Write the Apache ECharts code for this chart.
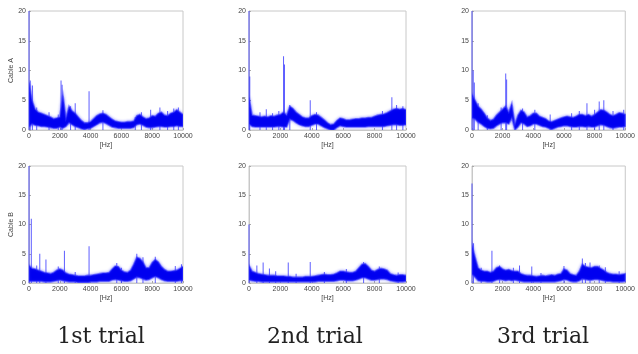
<!DOCTYPE html>
<html>
<head>
<meta charset="utf-8">
<script src="https://cdn.jsdelivr.net/npm/echarts@6/dist/echarts.min.js"></script>
<style>
html,body{margin:0;padding:0;background:#fff;}
#chart{width:638px;height:354px;}
</style>
</head>
<body>
<div id="chart"></div>
<script>
// Frequency grid [Hz] for the noise-band envelopes
const freq = [
  0,200,400,600,800,1000,1200,1400,1600,1800,
  2000,2200,2400,2600,2800,3000,3200,3400,3600,3800,
  4000,4200,4400,4600,4800,5000,5200,5400,5600,5800,
  6000,6200,6400,6600,6800,7000,7200,7400,7600,7800,
  8000,8200,8400,8600,8800,9000,9200,9400,9600,9800,
  10000
];
const xTicks = [0, 2000, 4000, 6000, 8000, 10000];
const yTicks = [0, 5, 10, 15, 20];
const rowNames = ['Cable A', 'Cable B'];
const trialNames = ['1st trial', '2nd trial', '3rd trial'];

// ---- Cable A, 1st trial ----
const a1Upper = [8,5,3.5,3.0,2.8,2.6,2.4,2.2,1.9,2.0, 2.2,6,2.0,4.0,3.2,2.8,2.2,1.6,1.2,1.2, 1.4,1.9,2.4,2.7,2.8,2.6,2.2,1.8,1.5,1.4, 1.3,1.3,1.4,1.4,1.5,2.4,2.6,2.2,1.9,2.0, 2.4,2.3,2.8,3.0,2.5,2.4,2.8,3.0,3.4,3.0, 2.6];
const a1Lower = [0.5,1.0,0.8,0.7,0.6,0.6,0.5,0.4,0.3,0.3, 0.5,0.3,0.6,1.2,0.9,0.6,0.4,0.2,0.1,0.2, 0.3,0.6,0.9,1.2,1.3,1.1,0.8,0.5,0.4,0.3, 0.3,0.3,0.3,0.3,0.4,0.9,1.0,0.8,0.5,0.4, 0.4,0.5,0.6,0.6,0.5,0.5,0.6,0.6,0.7,0.6, 0.6];
const a1Spikes = [[0,20],[80,8.3],[220,7.5],[500,3.8],[1300,3.0],[1900,2.6],[2080,8.3],[2150,7.6],[2700,4.0],[3000,4.5],[3900,6.5],[4800,3.3],[6900,2.2],[7300,3.0],[7900,3.4],[8500,3.8],[9000,3.2],[9400,3.6],[9700,3.8]];

// ---- Cable A, 2nd trial ----
const a2Upper = [5.5,2.5,2.4,2.3,2.2,2.3,2.2,2.4,2.3,2.5, 2.6,3.0,2.5,4.0,3.6,3.0,2.6,2.2,2.0,2.0, 2.4,2.6,2.5,2.1,1.7,1.2,0.9,1.0,1.6,2.0, 1.9,1.7,1.7,1.8,1.9,1.9,2.0,2.0,2.1,2.1, 2.3,2.5,2.6,2.7,2.9,3.2,3.5,3.6,3.5,3.6, 3.4];
const a2Lower = [1.0,0.6,0.5,0.5,0.5,0.5,0.5,0.5,0.5,0.6, 0.6,0.5,0.5,1.8,1.6,1.2,0.9,0.7,0.6,0.6, 0.8,1.0,1.0,0.7,0.4,0.2,0.0,0.0,0.4,0.7, 0.6,0.5,0.5,0.5,0.5,0.5,0.5,0.5,0.6,0.6, 0.6,0.6,0.6,0.6,0.7,0.8,0.9,0.9,0.8,0.8, 0.9];
const a2Spikes = [[0,20],[50,9],[700,3.0],[1100,3.5],[1500,2.8],[1900,3.2],[2200,12.4],[2260,11],[2600,4.2],[3900,5.0],[4300,3.0],[8500,3.2],[9100,5.5],[9400,4.2],[9800,4.0]];

// ---- Cable A, 3rd trial ----
const a3Upper = [6,5.0,4.0,3.5,2.8,2.0,1.6,1.8,2.5,3.0, 3.5,4,3.0,4.5,1.0,2.5,3.3,3.0,2.2,2.4, 2.8,2.8,2.3,2.1,1.9,1.5,1.4,1.6,1.8,2.0, 2.2,2.3,2.2,2.1,2.3,2.6,2.6,2.4,2.6,2.3, 2.6,3.0,3.4,3.3,3.0,2.6,2.4,2.6,2.9,2.8, 2.6];
const a3Lower = [2,1.8,1.3,1.0,0.6,0.3,0.2,0.3,0.7,1.0, 1.2,1.2,1.0,2.0,0.0,0.5,1.2,1.0,0.6,0.7, 1.0,1.0,0.8,0.6,0.5,0.3,0.1,0.3,0.5,0.6, 0.7,0.7,0.6,0.5,0.5,0.6,0.6,0.5,0.6,0.5, 0.5,0.7,0.9,0.8,0.6,0.4,0.3,0.4,0.5,0.5, 0.6];
const a3Spikes = [[0,20],[80,10],[150,8],[400,4.5],[1000,2.5],[1900,3.8],[2200,9.5],[2260,8.5],[3300,3.6],[4100,3.4],[5100,2.6],[6500,2.8],[7000,3.2],[7500,4.5],[8000,3.4],[8300,4.8],[8600,5.0],[9200,3.2],[9900,3.4]];

// ---- Cable B, 1st trial ----
const b1Upper = [3,2.5,2.4,2.2,2.0,1.8,1.7,1.6,1.8,2.2, 2.4,2.2,1.7,1.5,1.4,1.3,1.2,1.2,1.2,1.3, 1.3,1.4,1.5,1.6,1.7,1.7,1.8,2.4,2.9,2.8, 2.2,1.9,1.8,2.2,3.2,4.4,4.2,3.6,2.6,2.6, 3.5,4.0,3.6,2.8,2.3,2.0,2.0,2.1,2.2,2.5, 2.8];
const b1Lower = [0.3,0.3,0.3,0.3,0.3,0.2,0.2,0.2,0.3,0.4, 0.5,0.4,0.3,0.2,0.2,0.2,0.1,0.1,0.1,0.1, 0.2,0.2,0.2,0.3,0.3,0.3,0.3,0.5,0.6,0.5, 0.4,0.3,0.3,0.4,0.7,1.0,0.9,0.7,0.5,0.6, 0.9,1.1,0.9,0.6,0.4,0.3,0.3,0.3,0.3,0.4, 0.4];
const b1Spikes = [[0,20],[150,11],[500,3.0],[700,5.0],[1100,4.0],[1900,2.8],[2300,5.5],[3000,1.9],[3900,6.3],[5700,3.4],[6000,2.6],[7000,5.0],[7400,4.4],[8200,4.5],[9500,2.9],[9900,3.2]];

// ---- Cable B, 2nd trial ----
const b2Upper = [3.0,2.0,1.8,1.6,1.5,1.4,1.3,1.3,1.3,1.2, 1.2,1.2,1.1,1.1,1.0,1.0,1.0,1.0,1.1,1.1, 1.1,1.2,1.3,1.4,1.5,1.4,1.4,1.5,1.7,2.0, 2.0,1.9,1.8,1.8,2.0,2.6,3.2,3.3,2.8,2.2, 2.0,2.3,2.5,2.4,2.2,1.6,1.4,1.3,1.4,1.4, 1.3];
const b2Lower = [0.5,0.4,0.3,0.3,0.2,0.2,0.2,0.2,0.2,0.2, 0.2,0.2,0.2,0.2,0.2,0.2,0.2,0.2,0.2,0.2, 0.2,0.2,0.3,0.3,0.3,0.3,0.3,0.3,0.4,0.5, 0.5,0.4,0.4,0.4,0.5,0.7,0.9,0.9,0.7,0.5, 0.5,0.6,0.7,0.7,0.6,0.4,0.3,0.2,0.2,0.2, 0.3];
const b2Spikes = [[0,10],[500,3.0],[900,3.5],[1300,2.5],[1700,2.0],[2500,3.5],[3000,1.6],[3900,3.6],[4800,1.9],[6200,2.4],[7300,3.6],[8300,2.8],[9500,1.8]];

// ---- Cable B, 3rd trial ----
const b3Upper = [6.5,4.5,2.6,2.2,2.0,2.0,1.8,2.0,2.6,2.8, 2.4,2.2,2.3,2.1,2.0,2.0,1.6,1.4,1.3,1.3, 1.2,1.1,1.2,1.3,1.2,1.3,1.4,1.3,1.5,1.6, 2.4,2.2,1.6,1.4,1.3,2.0,3.2,2.8,2.7,2.6, 2.8,2.8,2.5,2.2,1.8,1.6,1.5,1.5,1.4,1.5, 1.6];
const b3Lower = [1.5,1.0,0.4,0.3,0.3,0.2,0.2,0.3,0.5,0.6, 0.5,0.4,0.5,0.4,0.5,0.4,0.3,0.2,0.2,0.2, 0.2,0.2,0.2,0.2,0.2,0.2,0.2,0.2,0.3,0.4, 0.6,0.5,0.3,0.2,0.2,0.4,0.7,0.6,0.5,0.5, 0.6,0.6,0.5,0.4,0.3,0.3,0.2,0.2,0.2,0.2, 0.3];
const b3Spikes = [[0,17],[100,6.8],[600,2.6],[1300,5.5],[1800,3.0],[2700,2.6],[3100,3.0],[3900,2.8],[4500,1.7],[6000,2.9],[7200,4.2],[7400,3.4],[7700,3.5],[8300,3.0],[8700,2.7],[9600,2.0]];

const panels = [
  [[a1Upper, a1Lower, a1Spikes], [a2Upper, a2Lower, a2Spikes], [a3Upper, a3Lower, a3Spikes]],
  [[b1Upper, b1Lower, b1Spikes], [b2Upper, b2Lower, b2Spikes], [b3Upper, b3Lower, b3Spikes]]
];

const colLeft = [29, 249, 472];
const colWidth = [154, 157, 156];
const rowTop = [11, 166];
const rowHeight = [119, 117];
const captionX = [101, 315, 543];

const labelFont = 'Liberation Sans';
const bandColor = '#0000f0';
const grids = [], xAxes = [], yAxes = [], series = [];
let k = 0;
for (let r = 0; r < 2; r++) {
  for (let c = 0; c < 3; c++) {
    grids.push({
      left: colLeft[c], top: rowTop[r], width: colWidth[c], height: rowHeight[r],
      show: true, borderColor: '#c8c8c8', borderWidth: 1, backgroundColor: '#fff'
    });
    xAxes.push({
      gridIndex: k, type: 'value', min: xTicks[0], max: xTicks[xTicks.length - 1], interval: 2000,
      name: '[Hz]', nameLocation: 'middle', nameGap: 12,
      nameTextStyle: { fontSize: 7, color: '#444', fontFamily: labelFont },
      axisLine: { show: true, lineStyle: { color: '#c8c8c8', width: 1 } },
      axisTick: { show: true, inside: true, length: 2, lineStyle: { color: '#aaa' } },
      axisLabel: { fontSize: 7, color: '#444', margin: 3, fontFamily: labelFont, formatter: v => String(v) },
      splitLine: { show: false }
    });
    yAxes.push({
      gridIndex: k, type: 'value', min: yTicks[0], max: yTicks[yTicks.length - 1], interval: 5,
      name: c === 0 ? rowNames[r] : '', nameLocation: 'middle', nameGap: 14,
      nameTextStyle: { fontSize: 7, color: '#444', fontFamily: labelFont },
      axisLine: { show: true, lineStyle: { color: '#c8c8c8', width: 1 } },
      axisTick: { show: true, inside: true, length: 2, lineStyle: { color: '#aaa' } },
      axisLabel: { fontSize: 7, color: '#444', margin: 3, fontFamily: labelFont, formatter: v => String(v) },
      splitLine: { show: false }
    });
    const [upper, lower, spikes] = panels[r][c];
    // light spikes behind the band
    series.push({
      type: 'bar', xAxisIndex: k, yAxisIndex: k, data: spikes, barWidth: 1,
      itemStyle: { color: 'rgba(40,40,255,0.75)' }, animation: false, z: 1
    });
    // noise band drawn as one polygon (upper edge forward, lower edge back)
    series.push({
      type: 'custom', xAxisIndex: k, yAxisIndex: k, data: [[freq[0], lower[0]]], clip: true, z: 2,
      renderItem: (function (up, lo) {
        return function (params, api) {
          const pts = [];
          for (let j = 0; j < freq.length; j++) pts.push(api.coord([freq[j], up[j]]));
          for (let j = freq.length - 1; j >= 0; j--) pts.push(api.coord([freq[j], lo[j]]));
          return {
            type: 'polygon',
            shape: { points: pts },
            style: { fill: bandColor, stroke: 'rgba(60,60,255,0.55)', lineWidth: 1.6,
                     shadowBlur: 3, shadowColor: 'rgba(50,50,255,0.6)' }
          };
        };
      })(upper, lower),
      animation: false
    });
    k++;
  }
}

const chart = echarts.init(document.getElementById('chart'), null, { renderer: 'canvas' });
chart.setOption({
  animation: false,
  backgroundColor: '#fff',
  grid: grids, xAxis: xAxes, yAxis: yAxes, series: series,
  graphic: trialNames.map((t, i) => ({
    type: 'text', x: captionX[i], y: 337,
    style: { text: t, fontFamily: 'DejaVu Serif', fontSize: 22, fill: '#222', align: 'center', verticalAlign: 'middle' }
  }))
});
</script>
</body>
</html>
